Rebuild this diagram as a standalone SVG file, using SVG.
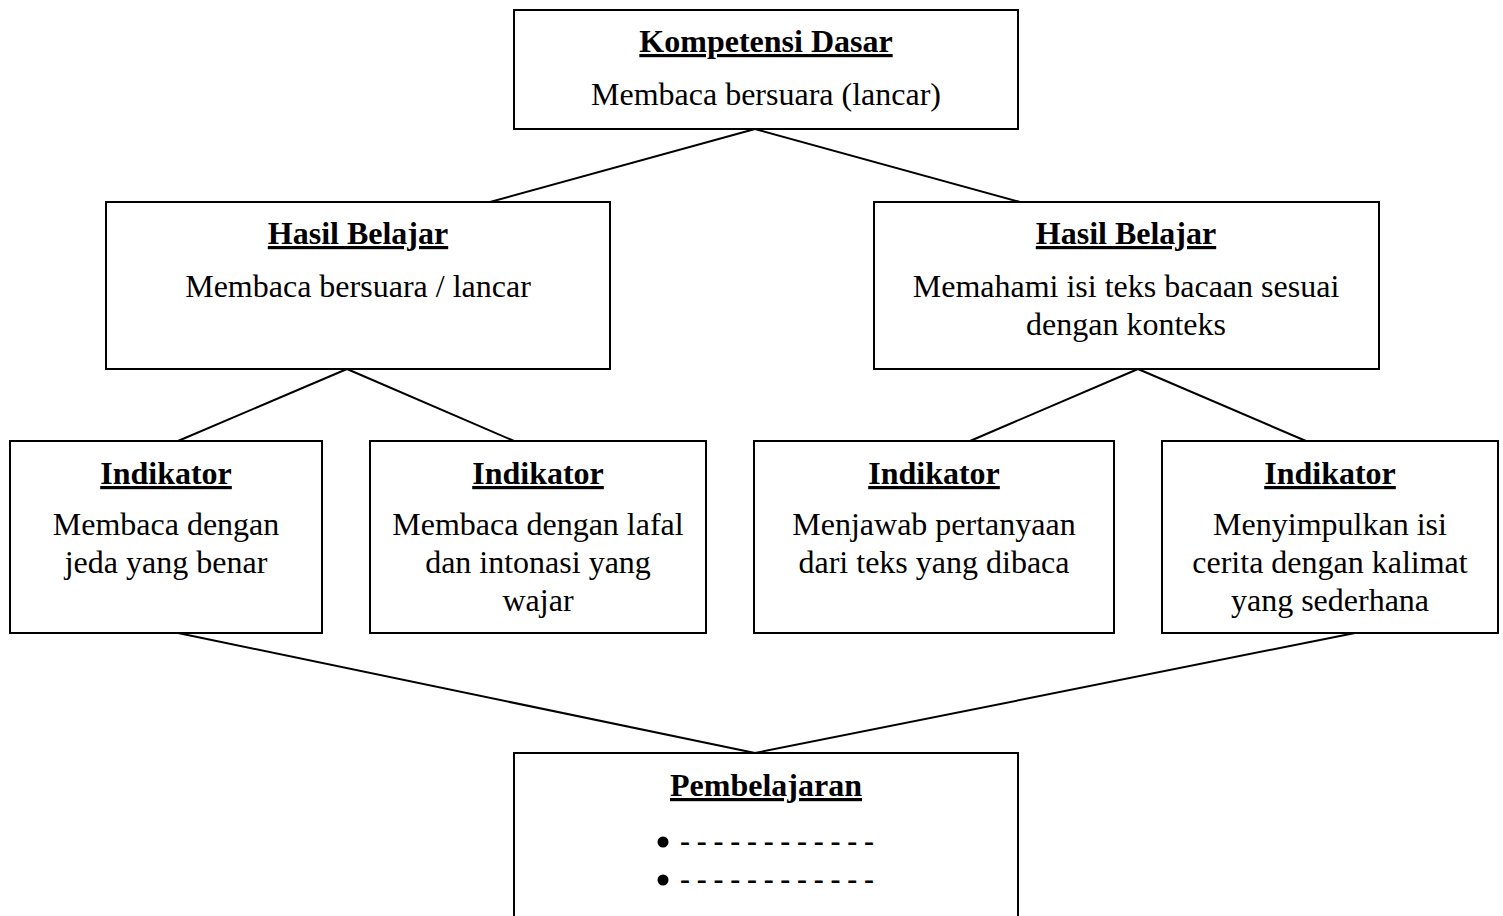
<svg xmlns="http://www.w3.org/2000/svg" width="1503" height="916" viewBox="0 0 1503 916">
<style>
.box{fill:#fff;stroke:#000;stroke-width:2}
.t{font-family:"Liberation Serif","Times New Roman",serif;font-size:32px;fill:#000;text-anchor:middle}
.h{font-weight:bold;text-decoration:underline}
.d{font-family:"Liberation Serif","Times New Roman",serif;font-size:30px;font-weight:bold;fill:#000}
.c line{stroke:#000;stroke-width:2}
</style>
<rect width="1503" height="916" fill="#fff"/>
<g class="c" id="connectors">
<line x1="755" y1="129" x2="490" y2="202"/>
<line x1="755" y1="129" x2="1020" y2="202"/>
<line x1="347" y1="369" x2="178" y2="441"/>
<line x1="347" y1="369" x2="514" y2="441"/>
<line x1="1138" y1="369" x2="970" y2="441"/>
<line x1="1138" y1="369" x2="1306" y2="441"/>
<line x1="178" y1="633" x2="755" y2="753"/>
<line x1="1355" y1="633" x2="755" y2="753"/>
</g>
<g id="kd">
<rect class="box" x="514" y="10" width="504" height="119"/>
<text class="t h" x="766" y="52">Kompetensi Dasar</text>
<text class="t" x="766" y="105">Membaca bersuara (lancar)</text>
</g>
<g id="hb1">
<rect class="box" x="106" y="202" width="504" height="167"/>
<text class="t h" x="358" y="244">Hasil Belajar</text>
<text class="t" x="358" y="297">Membaca bersuara / lancar</text>
</g>
<g id="hb2">
<rect class="box" x="874" y="202" width="505" height="167"/>
<text class="t h" x="1126" y="244">Hasil Belajar</text>
<text class="t" x="1126" y="297">Memahami isi teks bacaan sesuai</text>
<text class="t" x="1126" y="335">dengan konteks</text>
</g>
<g id="ind1">
<rect class="box" x="10" y="441" width="312" height="192"/>
<text class="t h" x="166" y="484">Indikator</text>
<text class="t" x="166" y="535">Membaca dengan</text>
<text class="t" x="166" y="573">jeda yang benar</text>
</g>
<g id="ind2">
<rect class="box" x="370" y="441" width="336" height="192"/>
<text class="t h" x="538" y="484">Indikator</text>
<text class="t" x="538" y="535">Membaca dengan lafal</text>
<text class="t" x="538" y="573">dan intonasi yang</text>
<text class="t" x="538" y="611">wajar</text>
</g>
<g id="ind3">
<rect class="box" x="754" y="441" width="360" height="192"/>
<text class="t h" x="934" y="484">Indikator</text>
<text class="t" x="934" y="535">Menjawab pertanyaan</text>
<text class="t" x="934" y="573">dari teks yang dibaca</text>
</g>
<g id="ind4">
<rect class="box" x="1162" y="441" width="336" height="192"/>
<text class="t h" x="1330" y="484">Indikator</text>
<text class="t" x="1330" y="535">Menyimpulkan isi</text>
<text class="t" x="1330" y="573">cerita dengan kalimat</text>
<text class="t" x="1330" y="611">yang sederhana</text>
</g>
<g id="pembelajaran">
<rect class="box" x="514" y="753" width="504" height="180"/>
<text class="t h" x="766" y="796">Pembelajaran</text>
<circle cx="663" cy="842" r="5.5" fill="#000"/>
<text class="d" x="680" y="851" textLength="194" lengthAdjust="spacing">- - - - - - - - - - - -</text>
<circle cx="663" cy="880" r="5.5" fill="#000"/>
<text class="d" x="680" y="889" textLength="194" lengthAdjust="spacing">- - - - - - - - - - - -</text>
</g>
</svg>
